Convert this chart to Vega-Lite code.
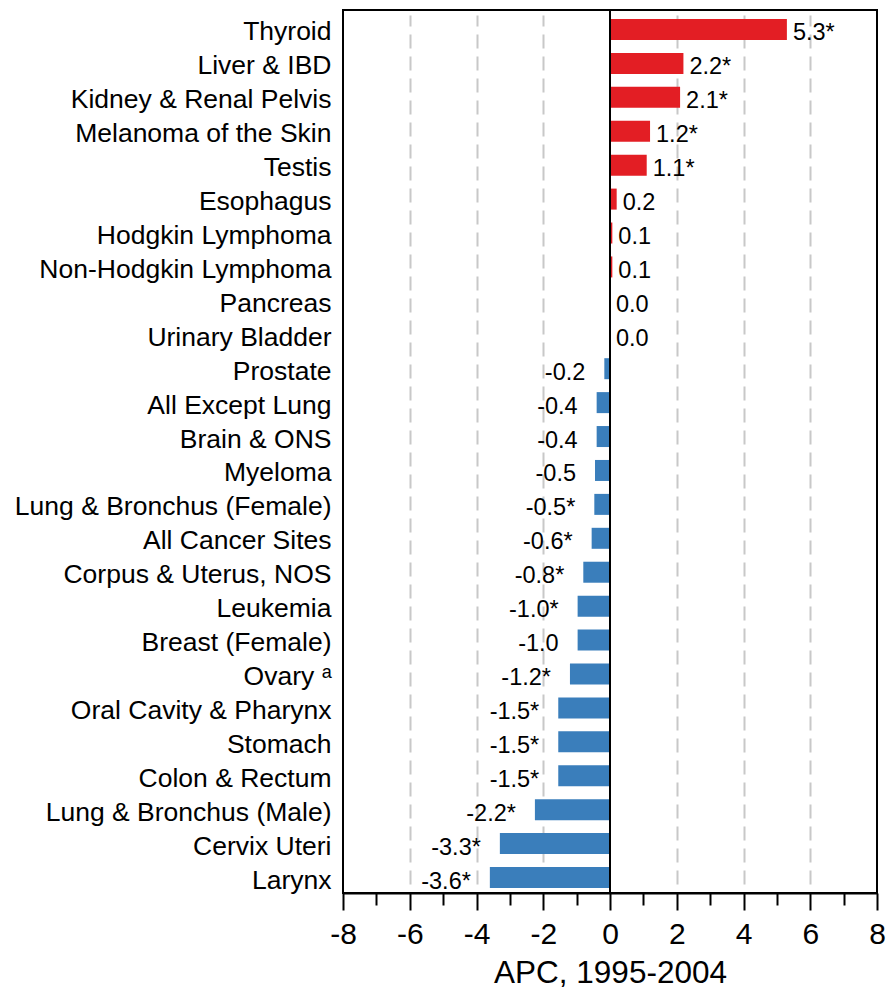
{
  "$schema": "https://vega.github.io/schema/vega-lite/v6.json",
  "width": 534,
  "height": 883,
  "autosize": {"type": "none"},
  "padding": {"left": 343, "top": 10, "right": 9, "bottom": 95},
  "background": "white",
  "config": {
    "view": {"stroke": "black", "strokeWidth": 2},
    "font": "Liberation Sans"
  },
  "data": {
    "values": [
      {"site": "Thyroid", "apc": 5.3, "label": "5.3*", "dir": "up"},
      {"site": "Liver & IBD", "apc": 2.2, "label": "2.2*", "dir": "up"},
      {"site": "Kidney & Renal Pelvis", "apc": 2.1, "label": "2.1*", "dir": "up"},
      {"site": "Melanoma of the Skin", "apc": 1.2, "label": "1.2*", "dir": "up"},
      {"site": "Testis", "apc": 1.1, "label": "1.1*", "dir": "up"},
      {"site": "Esophagus", "apc": 0.2, "label": "0.2", "dir": "up"},
      {"site": "Hodgkin Lymphoma", "apc": 0.07, "label": "0.1", "dir": "up"},
      {"site": "Non-Hodgkin Lymphoma", "apc": 0.07, "label": "0.1", "dir": "up"},
      {"site": "Pancreas", "apc": 0.0, "label": "0.0", "dir": "up"},
      {"site": "Urinary Bladder", "apc": 0.0, "label": "0.0", "dir": "up"},
      {"site": "Prostate", "apc": -0.17, "label": "-0.2", "dir": "down"},
      {"site": "All Except Lung", "apc": -0.4, "label": "-0.4", "dir": "down"},
      {"site": "Brain & ONS", "apc": -0.4, "label": "-0.4", "dir": "down"},
      {"site": "Myeloma", "apc": -0.45, "label": "-0.5", "dir": "down"},
      {"site": "Lung & Bronchus (Female)", "apc": -0.47, "label": "-0.5*", "dir": "down"},
      {"site": "All Cancer Sites", "apc": -0.55, "label": "-0.6*", "dir": "down"},
      {"site": "Corpus & Uterus, NOS", "apc": -0.8, "label": "-0.8*", "dir": "down"},
      {"site": "Leukemia", "apc": -0.97, "label": "-1.0*", "dir": "down"},
      {"site": "Breast (Female)", "apc": -0.97, "label": "-1.0", "dir": "down"},
      {"site": "Ovary ᵃ", "apc": -1.2, "label": "-1.2*", "dir": "down"},
      {"site": "Oral Cavity & Pharynx", "apc": -1.55, "label": "-1.5*", "dir": "down"},
      {"site": "Stomach", "apc": -1.55, "label": "-1.5*", "dir": "down"},
      {"site": "Colon & Rectum", "apc": -1.55, "label": "-1.5*", "dir": "down"},
      {"site": "Lung & Bronchus (Male)", "apc": -2.25, "label": "-2.2*", "dir": "down"},
      {"site": "Cervix Uteri", "apc": -3.3, "label": "-3.3*", "dir": "down"},
      {"site": "Larynx", "apc": -3.6, "label": "-3.6*", "dir": "down"}
    ]
  },
  "resolve": {"axis": {"x": "independent"}},
  "layer": [
    {
      "mark": {"type": "bar"},
      "encoding": {
        "y": {
          "field": "site",
          "type": "nominal",
          "sort": null,
          "scale": {"range": [9, 878], "paddingInner": 0.381, "paddingOuter": 0},
          "axis": {
            "title": null,
            "domain": false,
            "ticks": false,
            "labelFontSize": 26.5,
            "labelColor": "black",
            "labelPadding": 12,
            "labelOffset": 3,
            "labelLimit": 400
          }
        },
        "x": {
          "field": "apc",
          "type": "quantitative",
          "scale": {"domain": [-8, 8], "nice": false, "zero": true},
          "axis": {
            "orient": "bottom",
            "values": [-6, -4, -2, 2, 4, 6],
            "grid": true,
            "gridColor": "#c8c8c8",
            "gridDash": [14, 8],
            "gridWidth": 2,
            "labels": false,
            "ticks": false,
            "domain": false,
            "title": null
          }
        },
        "color": {
          "field": "dir",
          "type": "nominal",
          "scale": {"domain": ["up", "down"], "range": ["#E31E24", "#3A7EBB"]},
          "legend": null
        }
      }
    },
    {
      "transform": [{"filter": "datum.apc >= 0"}],
      "mark": {"type": "text", "align": "left", "baseline": "middle", "dx": 6, "dy": 4, "fontSize": 23.5, "color": "black"},
      "encoding": {
        "y": {"field": "site", "type": "nominal", "sort": null},
        "x": {
          "field": "apc",
          "type": "quantitative",
          "axis": {
            "orient": "bottom",
            "values": [-8, -6, -4, -2, 0, 2, 4, 6, 8],
            "labelExpr": "toString(datum.value)",
            "grid": false,
            "ticks": true,
            "tickSize": 17,
            "tickWidth": 2,
            "tickColor": "black",
            "domain": true,
            "domainColor": "black",
            "domainWidth": 2,
            "labelFontSize": 30,
            "labelColor": "black",
            "labelPadding": 9,
            "labelFlush": false,
            "title": "APC, 1995-2004",
            "titleFontSize": 31.5,
            "titleFontWeight": "normal",
            "titleColor": "black",
            "titlePadding": 8
          }
        },
        "text": {"field": "label"}
      }
    },
    {
      "transform": [{"filter": "datum.apc < 0"}],
      "mark": {"type": "text", "align": "right", "baseline": "middle", "dx": -19, "dy": 4, "fontSize": 23.5, "color": "black"},
      "encoding": {
        "y": {"field": "site", "type": "nominal", "sort": null},
        "x": {
          "field": "apc",
          "type": "quantitative",
          "axis": {
            "orient": "bottom",
            "values": [-7, -5, -3, -1, 1, 3, 5, 7],
            "grid": false,
            "ticks": true,
            "tickSize": 12,
            "tickWidth": 2,
            "tickColor": "black",
            "labels": false,
            "domain": false,
            "title": null
          }
        },
        "text": {"field": "label"}
      }
    },
    {
      "mark": {"type": "rule", "color": "black", "strokeWidth": 2},
      "encoding": {"x": {"datum": 0, "axis": null}}
    }
  ]
}
